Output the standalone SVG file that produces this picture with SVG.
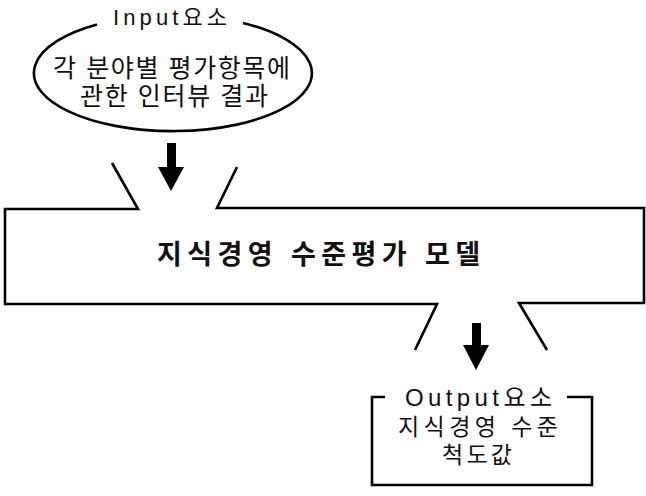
<svg xmlns="http://www.w3.org/2000/svg" width="646" height="496" viewBox="0 0 646 496">
<style>
.ln{fill:none;stroke:#000;stroke-width:2.6;stroke-linejoin:miter;stroke-linecap:butt}
.t{font-family:"Liberation Sans","Noto Sans CJK KR",sans-serif;fill:#111;text-anchor:middle}
.ar{fill:#000;stroke:none}
</style>
<rect width="646" height="496" fill="#fff"/>
<g id="input">
<path class="ln" d="M 97 24.5 A 139 58 0 1 0 243 23"/>
<text class="t" x="170" y="25" font-size="22" textLength="114">Input요소</text>
<text class="t" x="171.5" y="77" font-size="25" textLength="237">각 분야별 평가항목에</text>
<text class="t" x="174" y="105" font-size="25" textLength="188">관한 인터뷰 결과</text>
</g>
<g id="model">
<path class="ln" d="M 112 163 L 138 209 L 5 209 L 5 304 L 437 304 L 415 350 M 547 350 L 519 303 L 644 303 L 644 208 L 217 208 L 237 167"/>
<text class="t" x="318.5" y="264" font-size="27" font-weight="bold" textLength="323">지식경영 수준평가 모델</text>
</g>
<g id="output">
<path class="ln" d="M 385 397 L 372 397 L 372 485 L 592 485 L 592 397 L 567 397"/>
<text class="t" x="478.5" y="406" font-size="24" textLength="147">Output요소</text>
<text class="t" x="478" y="435" font-size="23" textLength="160">지식경영 수준</text>
<text class="t" x="477" y="463" font-size="23" textLength="70">척도값</text>
</g>
<g id="connectors">
<polygon class="ar" points="167,143 176,143 176,167 184,167 171,191 158,167 167,167"/>
<polygon class="ar" points="472,323 481,323 481,345 489,345 476,370 463,345 472,345"/>
</g>
</svg>
